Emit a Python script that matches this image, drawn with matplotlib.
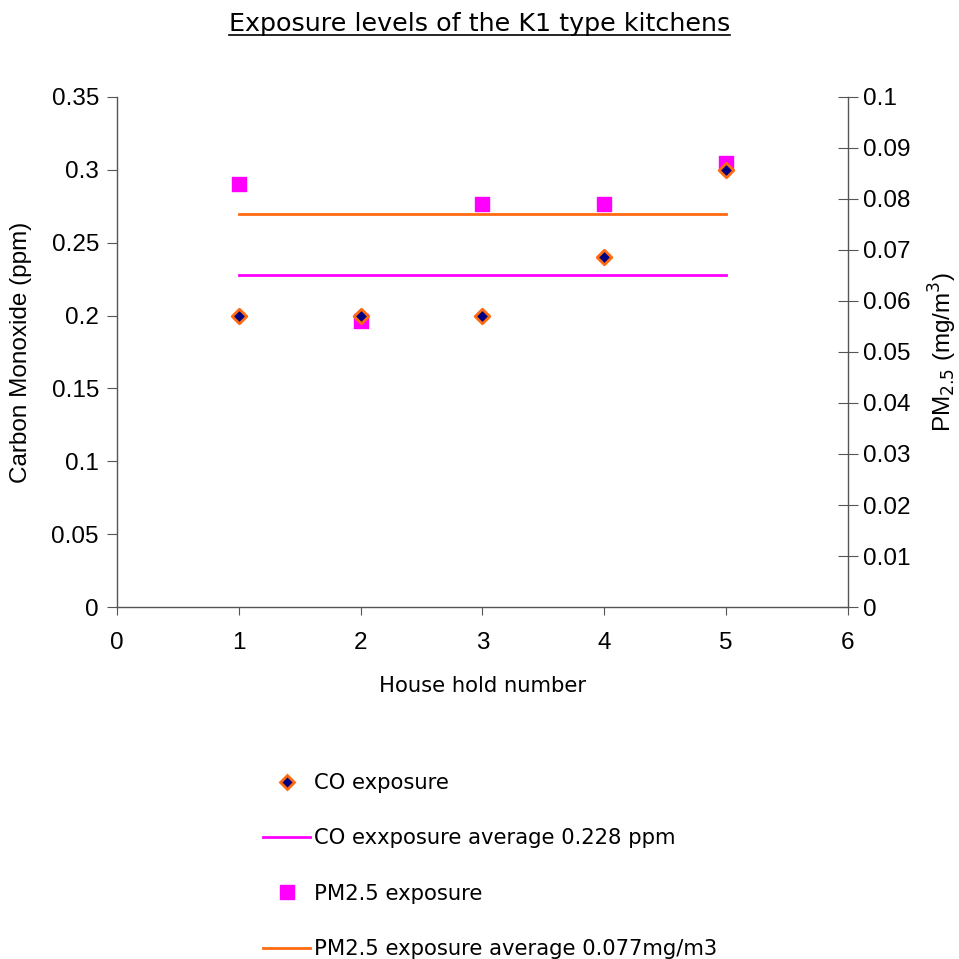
import matplotlib
matplotlib.use("Agg")
from matplotlib import pyplot as plt
from matplotlib.lines import Line2D

houses = [1, 2, 3, 4, 5]
co_exposure = [0.2, 0.2, 0.2, 0.24, 0.3]
pm_exposure = [0.083, 0.056, 0.079, 0.079, 0.087]
co_average = 0.228
pm_average = 0.077

co_ticks = [0, 0.05, 0.1, 0.15, 0.2, 0.25, 0.3, 0.35]
pm_ticks = [0, 0.01, 0.02, 0.03, 0.04, 0.05, 0.06, 0.07, 0.08, 0.09, 0.1]

tick_font = "Liberation Sans"
text_font = "DejaVu Sans"

fig = plt.figure(figsize=(9.59, 9.59), dpi=100)
ax = fig.add_axes([0.122, 0.367, 0.762, 0.532])
ax2 = ax.twinx()

ax.set_xlim(0, 6)
ax.set_ylim(0, 0.35)
ax2.set_ylim(0, 0.1)

# average lines span house 1..5
ax.plot([houses[0], houses[-1]], [co_average] * 2, color="#ff00ff", lw=2, zorder=2)
ax2.plot([houses[0], houses[-1]], [pm_average] * 2, color="#ff6a10", lw=2, zorder=2)

ax2.scatter(houses, pm_exposure, marker="s", s=115, color="#ff00ff", zorder=3)
ax.scatter(houses, co_exposure, marker="D", s=55, facecolor="#000080",
           edgecolor="#ff6a10", linewidth=2, zorder=4)
ax.set_zorder(ax2.get_zorder() + 1)
ax.patch.set_visible(False)

ax.set_yticks(co_ticks)
ax.set_yticklabels(["0" if v == 0 else ("%g" % v) for v in co_ticks])
ax2.set_yticks(pm_ticks)
ax2.set_yticklabels(["0" if v == 0 else ("%g" % v) for v in pm_ticks])
ax.set_xticks(range(0, 7))

for a in (ax, ax2):
    a.spines["top"].set_visible(False)
    for s in a.spines.values():
        s.set_color("#555555")
        s.set_linewidth(1)
    for lab in a.get_yticklabels() + a.get_xticklabels():
        lab.set_fontfamily(tick_font)
        lab.set_fontsize(17.5)
ax.spines["right"].set_visible(False)
ax2.spines["left"].set_visible(False)
ax2.spines["bottom"].set_visible(False)

ax.tick_params(axis="y", direction="out", length=7, color="#555555", pad=6)
ax.tick_params(axis="x", direction="out", length=6, color="#555555", pad=12)
ax2.tick_params(axis="y", direction="inout", length=14, color="#555555", pad=4)

ax.set_ylabel("Carbon Monoxide (ppm)", fontfamily=tick_font, fontsize=17.5, labelpad=14)
ax2.set_ylabel("PM$_{2.5}$ (mg/m$^3$)", fontfamily=tick_font, fontsize=17.5, labelpad=12)
ax.set_xlabel("House hold number", fontfamily=text_font, fontsize=15.2, labelpad=16)

title = fig.text(0.5, 0.968, "Exposure levels of the K1 type kitchens",
                 ha="center", va="baseline", fontfamily=text_font, fontsize=18.3)
fig.canvas.draw()
bb = title.get_window_extent().transformed(fig.transFigure.inverted())
fig.add_artist(Line2D([bb.x0, bb.x1], [bb.y0 + 0.001, bb.y0 + 0.001], color="black", lw=1.2,
                      transform=fig.transFigure))

handles = [
    Line2D([], [], ls="none", marker="D", markersize=7, markerfacecolor="#000080",
           markeredgecolor="#ff6a10", markeredgewidth=2),
    Line2D([], [], color="#ff00ff", lw=2),
    Line2D([], [], ls="none", marker="s", markersize=10, color="#ff00ff"),
    Line2D([], [], color="#ff6a10", lw=2),
]
labels = ["CO exposure", "CO exxposure average 0.228 ppm",
          "PM2.5 exposure", "PM2.5 exposure average 0.077mg/m3"]
leg = fig.legend(handles, labels, loc="upper left", bbox_to_anchor=(0.274, 0.194),
                 frameon=False, prop={"family": text_font, "size": 15.2},
                 handlelength=2.25, handletextpad=0.2, labelspacing=1.68,
                 borderaxespad=0, borderpad=0)

fig.savefig("out.png", dpi=100)
